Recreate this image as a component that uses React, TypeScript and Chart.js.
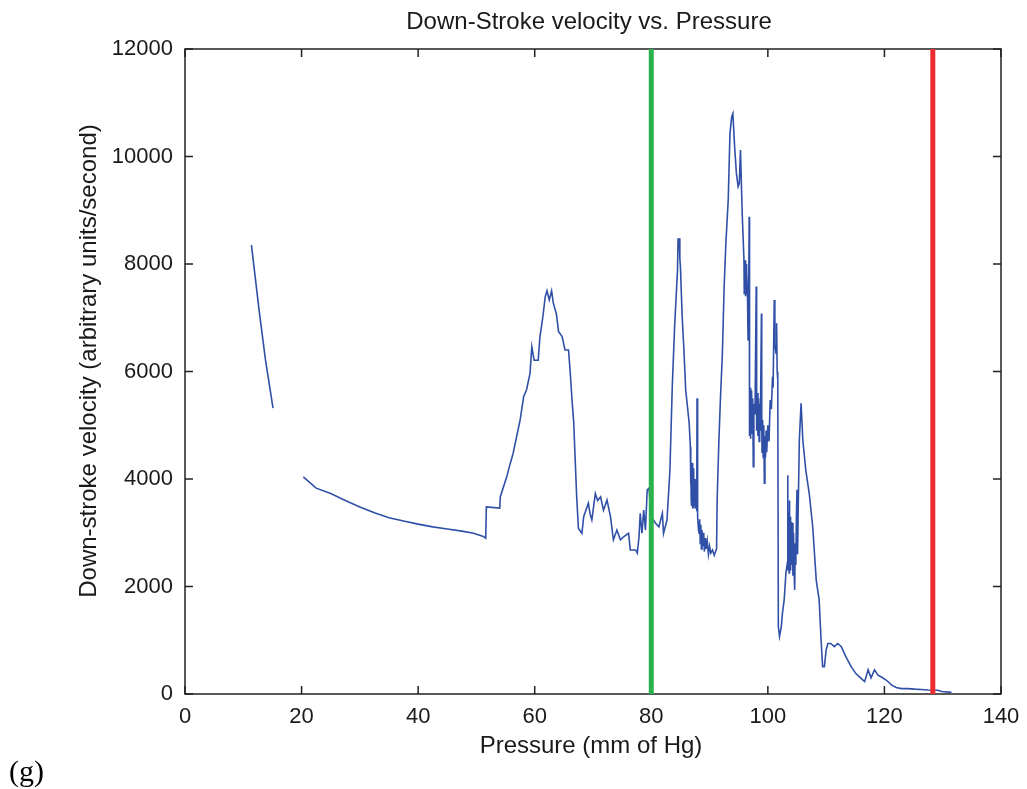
import React, { useEffect, useRef } from "react";
import { Chart, registerables } from "chart.js";

Chart.register(...registerables);

// ---- data ----
const pressure: number[] = [
  11.4, 12.7, 13.8, 15.1,
  17.5,
  20.3, 22.5, 25, 27.5, 30, 32.5, 35, 37.5, 40, 42.5, 45, 47.5, 49.5, 51.2, 51.6,
  51.7, 54.0, 54.1, 55.2, 55.8, 56.3, 56.9, 57.5, 58.1, 58.6, 59.2, 59.5, 59.9, 60.6,
  60.9, 61.4, 61.8, 62.1, 62.5, 62.9, 63.2, 63.7, 64.1, 64.7, 65.2, 65.8, 66.1, 66.4,
  66.7, 66.9, 67.2, 67.5, 68.1, 68.4, 69.2, 69.5, 69.8, 70.4, 70.8, 71.3, 71.8, 72.4,
  73.0, 73.5, 74.1, 74.7, 75.3, 76.1, 76.4, 77.3, 77.6, 77.9, 78.1, 78.4, 78.7, 79.0,
  79.3, 79.6, 80.0, 80.7, 81.3, 81.9, 82.1, 82.7, 83.2, 83.6, 84.0, 84.5, 84.6, 84.7,
  84.8, 84.9, 85.0, 85.3, 85.6, 85.9, 86.5, 86.7, 86.75, 86.8, 86.85, 86.9, 86.95, 87.0,
  87.05, 87.1, 87.15, 87.2, 87.25, 87.3, 87.4, 87.5, 87.6, 87.7, 87.8, 87.85, 87.9, 88.0,
  88.1, 88.2, 88.3, 88.4, 88.5, 88.6, 88.7, 88.8, 89.0, 89.1, 89.3, 89.4, 89.6, 89.8,
  90.0, 90.2, 90.5, 90.8, 91.0, 91.2, 91.3, 91.6, 91.9, 92.2, 92.5, 92.8, 93.2, 93.5,
  93.8, 94.0, 94.3, 94.6, 94.9, 95.1, 95.3, 95.6, 95.9, 95.95, 96.0, 96.05, 96.1, 96.15,
  96.2, 96.25, 96.3, 96.35, 96.4, 96.5, 96.6, 96.7, 96.8, 96.82, 96.85, 96.9, 96.95, 97.0,
  97.05, 97.1, 97.15, 97.2, 97.3, 97.4, 97.5, 97.6, 97.8, 98.0, 98.05, 98.1, 98.2, 98.3,
  98.4, 98.5, 98.6, 98.7, 98.9, 98.95, 99.0, 99.1, 99.2, 99.3, 99.4, 99.5, 99.6, 99.7,
  99.8, 100.0, 100.2, 100.4, 100.6, 100.8, 100.9, 101.1, 101.2, 101.4, 101.5, 101.6, 101.7, 101.8,
  102.0, 102.3, 102.5, 102.8, 103.1, 103.3, 103.4, 103.45, 103.5, 103.55, 103.6, 103.65, 103.7, 103.75,
  103.8, 103.9, 104.0, 104.1, 104.2, 104.3, 104.4, 104.5, 104.6, 104.7, 104.8, 104.9, 105.0, 105.1,
  105.2, 105.4, 105.7, 106.0, 106.5, 107.1, 107.7, 108.3, 108.8, 109.1, 109.4, 109.7, 110.0, 110.3,
  110.8, 111.4, 112.0, 112.6, 113.4, 114.3, 115.1, 116.0, 116.6, 117.2, 117.7, 118.3, 118.9, 119.4,
  120.3, 121.2, 122.0, 122.9, 124.0, 125.2, 126.3, 127.5, 129.2, 129.8, 131.5,
];

const velocity: (number | null)[] = [
  8350, 7150, 6220, 5320,
  null,
  4040, 3830, 3730, 3600, 3480, 3370, 3280, 3220, 3160, 3110, 3070, 3030, 2990, 2930, 2900,
  3480, 3460, 3670, 4040, 4290, 4480, 4790, 5100, 5530, 5660, 5970, 6460, 6210, 6210,
  6650, 7020, 7390, 7500, 7330, 7500, 7270, 7080, 6740, 6650, 6400, 6400, 5970, 5470,
  5040, 4480, 3670, 3080, 2990, 3300, 3550, 3350, 3240, 3730, 3600, 3670, 3420, 3610,
  3300, 2870, 3050, 2870, 2930, 2990, 2680, 2680, 2620, 2930, 3360, 2990, 3420, 3050,
  3800, 3830, 3300, 3180, 3110, 3360, 2990, 3240, 4170, 5720, 6830, 7890, 8480, 8300,
  8480, 8100, 7950, 7020, 6400, 5660, 5040, 4600, 3900, 4300, 3600, 4250, 3500, 4300,
  3450, 4250, 3600, 4200, 3450, 4100, 3500, 4000, 3450, 3900, 3400, 5500, 3500, 3300,
  3050, 2990, 3250, 2800, 3150, 2700, 3050, 2750, 3000, 2650, 2900, 2700, 2850, 2600,
  2750, 2620, 2680, 2580, 2640, 2700, 3610, 4720, 5590, 6340, 7580, 8390, 9190, 10430,
  10740, 10800, 10180, 9690, 9440, 9500, 10120, 8940, 8070, 7450, 8000, 7500, 8070, 7400,
  8050, 7450, 8000, 7500, 7900, 7450, 6590, 7200, 8880, 5700, 4800, 5650, 4900, 5700,
  4750, 5600, 4900, 5650, 4850, 5500, 4230, 5400, 5200, 7580, 5600, 4900, 5600, 4800,
  5500, 4700, 5400, 4900, 7080, 5200, 4500, 5100, 4400, 5000, 3920, 4800, 4400, 4900,
  4500, 5000, 4700, 5470, 5300, 5900, 5700, 7330, 6500, 6340, 6900, 6000, 5840, 1250,
  1070, 1250, 1500, 1750, 2250, 2400, 4070, 2300, 3400, 2400, 3300, 2250, 3600, 2500,
  3300, 2300, 3200, 2400, 3180, 2200, 3000, 2300, 1935, 2800, 2400, 3300, 3800, 2600,
  3400, 4725, 5410, 4725, 4170, 3730, 3110, 2120, 1750, 1066, 510, 510, 820, 940,
  940, 880, 940, 880, 690, 510, 380, 290, 230, 450, 300, 450, 350, 320,
  260, 170, 120, 100, 100, 90, 85, 75, 70, 45, 30,
];

const markerPressures: number[] = [80, 128.3];
const markerColors: string[] = ["#2bb24c", "#ee2b30"];

const xTickValues: number[] = [0, 20, 40, 60, 80, 100, 120, 140];
const yTickValues: number[] = [0, 2000, 4000, 6000, 8000, 10000, 12000];

const titleText = "Down-Stroke velocity vs. Pressure";
const xLabelText = "Pressure (mm of Hg)";
const yLabelText = "Down-stroke velocity (arbitrary units/second)";
const panelLabel = "(g)";

const SANS = "'Liberation Sans', Arial, sans-serif";

const framePlugin = {
  id: "matlabFrame",
  beforeDatasetsDraw(chart: any) {
    const { ctx, chartArea, scales } = chart;
    const { left, right, top, bottom } = chartArea;
    ctx.save();
    ctx.strokeStyle = "#222";
    ctx.lineWidth = 1.5;
    ctx.strokeRect(left, top, right - left, bottom - top);
    const tl = 8;
    ctx.beginPath();
    for (const v of xTickValues) {
      const x = scales.x.getPixelForValue(v);
      ctx.moveTo(x, bottom);
      ctx.lineTo(x, bottom - tl);
      ctx.moveTo(x, top);
      ctx.lineTo(x, top + tl);
    }
    for (const v of yTickValues) {
      const y = scales.y.getPixelForValue(v);
      ctx.moveTo(left, y);
      ctx.lineTo(left + tl, y);
      ctx.moveTo(right, y);
      ctx.lineTo(right - tl, y);
    }
    ctx.stroke();
    ctx.restore();
  },
  afterDraw(chart: any) {
    const { ctx } = chart;
    ctx.save();
    ctx.fillStyle = "#1a1a1a";
    ctx.textAlign = "center";
    ctx.textBaseline = "middle";
    ctx.font = `24px ${SANS}`;
    ctx.fillText(titleText, 589, 22);
    ctx.fillText(xLabelText, 591, 746);
    ctx.save();
    ctx.translate(89, 361);
    ctx.rotate(-Math.PI / 2);
    ctx.fillText(yLabelText, 0, 0);
    ctx.restore();

    ctx.fillStyle = "#000";
    ctx.textAlign = "left";
    ctx.font = `30px 'Liberation Serif', 'Times New Roman', serif`;
    ctx.fillText(panelLabel, 9, 773);
    ctx.restore();
  },
};

export default function App() {
  const canvasRef = useRef<HTMLCanvasElement | null>(null);

  useEffect(() => {
    if (!canvasRef.current) return;
    const mainPoints = pressure.map((p, i) => ({ x: p, y: velocity[i] }));
    const markerSets = markerPressures.map((p, i) => ({
      label: `marker${i}`,
      data: [
        { x: p, y: yTickValues[0] },
        { x: p, y: yTickValues[yTickValues.length - 1] },
      ],
      borderColor: markerColors[i],
      borderWidth: 5,
      pointRadius: 0,
      fill: false,
      order: 0,
    }));

    const chart = new Chart(canvasRef.current, {
      type: "line",
      data: {
        datasets: [
          ...markerSets,
          {
            label: "velocity",
            data: mainPoints as any,
            borderColor: "#3050a8",
            borderWidth: 1.6,
            pointRadius: 0,
            fill: false,
            spanGaps: false,
            tension: 0,
            order: 1,
          },
        ],
      },
      options: {
        responsive: false,
        animation: false,
        events: [],
        layout: { padding: { left: 0, right: 26, top: 49, bottom: 0 } },
        plugins: {
          legend: { display: false },
          title: { display: false },
          tooltip: { enabled: false },
        },
        scales: {
          x: {
            type: "linear",
            min: 0,
            max: 140,
            afterFit: (axis: any) => {
              axis.height = 95;
              axis.paddingRight = 0;
              axis.paddingLeft = 0;
            },
            afterBuildTicks: (axis: any) => {
              axis.ticks = xTickValues.map((v) => ({ value: v }));
            },
            grid: { display: false, drawTicks: false },
            border: { display: false },
            ticks: {
              padding: 10,
              color: "#1a1a1a",
              font: { family: SANS, size: 22 },
              maxRotation: 0,
            },
          },
          y: {
            type: "linear",
            min: 0,
            max: 12000,
            afterFit: (axis: any) => {
              axis.width = 185;
              axis.paddingTop = 0;
              axis.paddingBottom = 0;
            },
            afterBuildTicks: (axis: any) => {
              axis.ticks = yTickValues.map((v) => ({ value: v }));
            },
            grid: { display: false, drawTicks: false },
            border: { display: false },
            ticks: {
              padding: 12,
              color: "#1a1a1a",
              font: { family: SANS, size: 22 },
              callback: (v: any) => String(v),
            },
          },
        },
      },
      plugins: [framePlugin],
    });
    return () => chart.destroy();
  }, []);

  return (
    <div style={{ position: "fixed", left: 0, top: 0, width: 1027, height: 789, background: "#fff" }}>
      <canvas ref={canvasRef} width={1027} height={789} style={{ display: "block" }} />
    </div>
  );
}
